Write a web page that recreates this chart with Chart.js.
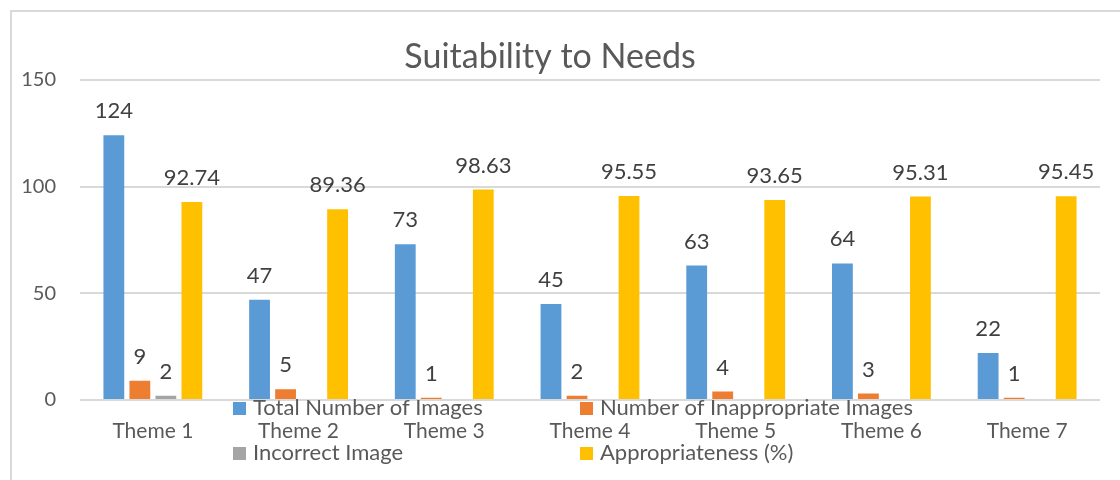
<!DOCTYPE html>
<html>
<head>
<meta charset="utf-8">
<script src="https://cdn.jsdelivr.net/npm/chart.js@4/dist/chart.umd.min.js"></script>
<style>
  html, body { margin: 0; padding: 0; background: #fff; }
  #frame { position: absolute; left: 10px; top: 10px; width: 1120px; height: 480px; border: 2px solid #d9d9d9; box-sizing: border-box; }
  #wrap { position: absolute; left: 0; top: 0; width: 1120px; height: 480px; }
</style>
</head>
<body>
<div id="frame"></div>
<div id="wrap"><canvas id="suitChart" width="1120" height="480"></canvas></div>
<script>
// data
const themes = ["Theme 1", "Theme 2", "Theme 3", "Theme 4", "Theme 5", "Theme 6", "Theme 7"];
const totalImages = [124, 47, 73, 45, 63, 64, 22];
const inappropriateImages = [9, 5, 1, 2, 4, 3, 1];
const incorrectImages = [2, 0, 0, 0, 0, 0, 0];
const appropriateness = [92.74, 89.36, 98.63, 95.55, 93.65, 95.31, 95.45];
const yTicks = [0, 50, 100, 150];

const font = "Lato, 'Open Sans', sans-serif";
const ctx = document.getElementById("suitChart").getContext("2d");

const suitChart = new Chart(ctx, {
  type: "bar",
  data: {
    labels: themes,
    datasets: [
      { label: "Total Number of Images", data: totalImages, backgroundColor: "#5B9BD5" },
      { label: "Number of Inappropriate Images", data: inappropriateImages, backgroundColor: "#ED7D31" },
      { label: "Incorrect Image", data: incorrectImages, backgroundColor: "#A5A5A5" },
      { label: "Appropriateness (%)", data: appropriateness, backgroundColor: "#FFC000" },
    ],
  },
  options: {
    responsive: false,
    animation: false,
    datasets: {
      bar: { categoryPercentage: 0.714, barPercentage: 0.8 }
    },
    layout: { padding: { left: 0, right: 20, top: 0, bottom: 0 } },
    scales: {
      x: {
        grid: { display: false },
        border: { display: false },
        ticks: { color: "#595959", font: { family: font, size: 21 }, padding: 11, maxRotation: 0 },
        afterFit: function (scale) { scale.height = 80; },
      },
      y: {
        min: 0,
        max: 150,
        afterBuildTicks: function (scale) { scale.ticks = yTicks.map(v => ({ value: v })); },
        grid: { color: "#d9d9d9", lineWidth: 2, drawTicks: false },
        border: { display: false },
        ticks: { color: "#595959", font: { family: font, size: 20 }, padding: 24 },
        afterFit: function (scale) { scale.width = 80; },
      },
    },
    plugins: {
      title: {
        display: true,
        text: "Suitability to Needs",
        color: "#595959",
        font: { family: font, size: 34, weight: "normal" },
        padding: { top: 37, bottom: 2 },
      },
      legend: { display: false },
      tooltip: { enabled: false },
    },
  },
  plugins: [
    {
      id: "valueLabels",
      afterDatasetsDraw: function (chart) {
        const c = chart.ctx;
        c.save();
        c.font = "22px " + font;
        c.fillStyle = "#404040";
        c.textAlign = "center";
        c.textBaseline = "middle";
        chart.data.datasets.forEach((ds, i) => {
          chart.getDatasetMeta(i).data.forEach((bar, j) => {
            const v = ds.data[j];
            if (!v) return;
            c.fillText(String(v), bar.x, bar.y - 24);
          });
        });
        c.restore();
      }
    },
    {
      id: "overlapLegend",
      afterDraw: function (chart) {
        // Excel-style legend sitting over the category labels, two columns
        const c = chart.ctx;
        const cols = [233, 580];
        const rows = [chart.chartArea.bottom + 8, chart.chartArea.bottom + 53];
        c.save();
        c.font = "22px " + font;
        c.textBaseline = "middle";
        chart.data.datasets.forEach((ds, i) => {
          const x = cols[i % 2];
          const y = rows[Math.floor(i / 2)];
          c.fillStyle = ds.backgroundColor;
          c.fillRect(x, y - 6, 13, 13);
          c.fillStyle = "#595959";
          c.fillText(ds.label, x + 20, y);
        });
        c.restore();
      }
    }
  ]
});
</script>
</body>
</html>
